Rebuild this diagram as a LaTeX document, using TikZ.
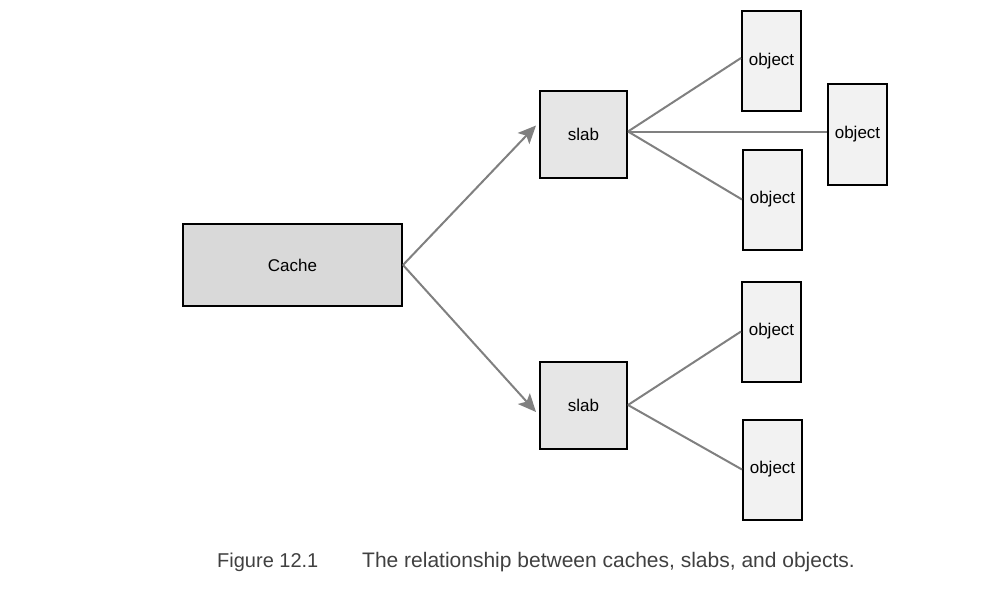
\documentclass[tikz,border=0pt]{standalone}
\usepackage{fontspec}
\setmainfont{Liberation Sans}
\usetikzlibrary{arrows.meta}
\definecolor{cachegray}{rgb}{0.851,0.851,0.851}
\definecolor{slabgray}{rgb}{0.902,0.902,0.902}
\definecolor{objgray}{rgb}{0.949,0.949,0.949}
\definecolor{linkgray}{rgb}{0.502,0.502,0.502}
\definecolor{captiongray}{rgb}{0.25,0.25,0.25}

\begin{document}
\begin{tikzpicture}[x=1pt,y=-1pt,
    box/.style={draw=black,line width=2pt,inner sep=0pt,
        font=\fontsize{17}{20}\selectfont},
    cachebox/.style={box,fill=cachegray,minimum width=219pt,minimum height=82pt},
    slabbox/.style={box,fill=slabgray,minimum width=87pt,minimum height=87pt},
    objbox/.style={box,fill=objgray,minimum width=59pt,minimum height=100pt},
    link/.style={draw=linkgray,line width=2pt},
    arrowlink/.style={link,-{Stealth[length=18pt,width=16pt,inset=4pt]}},
    caption/.style={anchor=west,text=captiongray,inner sep=0pt,
        font=\fontsize{21}{25}\selectfont}]
    \useasboundingbox (0,0) rectangle (1007,602);

    \node[cachebox] (cache) at (292.5,265) {Cache};

    \node[slabbox] (slabA) at (583.5,134.5) {slab};
    \node[slabbox] (slabB) at (583.5,405) {slab};

    \node[objbox] (objA1) at (771.5,61) {object};
    \node[objbox] (objA2) at (857.5,134.5) {object};
    \node[objbox] (objA3) at (772.5,199.5) {object};
    \node[objbox] (objB1) at (771.5,331.5) {object};
    \node[objbox] (objB2) at (772.5,469.5) {object};

    \draw[arrowlink] (cache.east) -- ([xshift=-3pt,yshift=9pt]slabA.west);
    \draw[arrowlink] (cache.east) -- ([xshift=-3pt,yshift=-7pt]slabB.west);

    \draw[link] ([yshift=3pt]slabA.east) -- ([yshift=3pt]objA1.west);
    \draw[link] ([yshift=3pt]slabA.east) -- ([yshift=3pt]objA2.west);
    \draw[link] ([yshift=3pt]slabA.east) -- (objA3.west);
    \draw[link] (slabB.east) -- (objB1.west);
    \draw[link] (slabB.east) -- (objB2.west);

    \node[caption] (fignum) at (217,562) {\fontsize{20}{24}\selectfont Figure 12.1};
    \node[caption] (figtext) at (362,562) {The relationship between caches, slabs, and objects.};
\end{tikzpicture}
\end{document}
